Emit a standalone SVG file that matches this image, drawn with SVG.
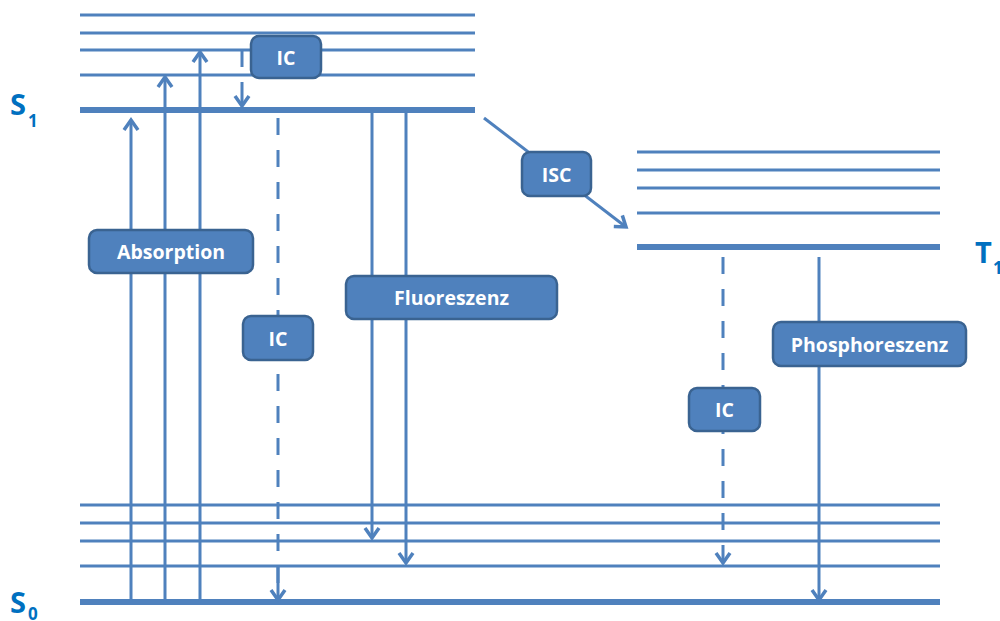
<svg xmlns="http://www.w3.org/2000/svg" width="1000" height="621" viewBox="0 0 1000 621">
<style>
.lv{stroke:#4F81BD;stroke-width:3;fill:none}
.gl{stroke:#4F81BD;stroke-width:6;fill:none}
.ar{stroke:#4F81BD;stroke-width:3;fill:none}
.box{fill:#4F81BD;stroke:#3A6391;stroke-width:2.5}
.bt{font-family:"Open Sans","Liberation Sans",sans-serif;font-weight:bold;font-size:19.5px;fill:#FFFFFF;text-anchor:middle;dominant-baseline:central}
.st{font-family:"Open Sans","Liberation Sans",sans-serif;font-weight:bold;fill:#0070C0}
</style>
<defs>
<marker id="ah" markerUnits="userSpaceOnUse" markerWidth="24" markerHeight="24" refX="0" refY="0" viewBox="-12 -12 24 24" orient="auto" overflow="visible">
<path d="M-10,-7 L0,0 L-10,7" fill="none" stroke="#4F81BD" stroke-width="3.5" stroke-linejoin="miter"/>
</marker>
</defs>
<g id="levels">
<g id="S1-levels">
<line class="lv" x1="80" y1="15" x2="475" y2="15"/>
<line class="lv" x1="80" y1="33" x2="475" y2="33"/>
<line class="lv" x1="80" y1="50" x2="475" y2="50"/>
<line class="lv" x1="80" y1="75" x2="475" y2="75"/>
<line class="gl" x1="80" y1="110" x2="475" y2="110"/>
</g>
<g id="T1-levels">
<line class="lv" x1="637" y1="152" x2="940" y2="152"/>
<line class="lv" x1="637" y1="170" x2="940" y2="170"/>
<line class="lv" x1="637" y1="188" x2="940" y2="188"/>
<line class="lv" x1="637" y1="213" x2="940" y2="213"/>
<line class="gl" x1="637" y1="247" x2="940" y2="247"/>
</g>
<g id="S0-levels">
<line class="lv" x1="80" y1="505" x2="940" y2="505"/>
<line class="lv" x1="80" y1="523" x2="940" y2="523"/>
<line class="lv" x1="80" y1="541" x2="940" y2="541"/>
<line class="lv" x1="80" y1="566" x2="940" y2="566"/>
<line class="gl" x1="80" y1="602" x2="940" y2="602"/>
</g>
</g>
<g id="connectors">
<line class="ar" x1="131" y1="602" x2="131" y2="120" marker-end="url(#ah)"/>
<line class="ar" x1="165" y1="602" x2="165" y2="77" marker-end="url(#ah)"/>
<line class="ar" x1="200" y1="602" x2="200" y2="52" marker-end="url(#ah)"/>
<line class="ar" x1="242" y1="50" x2="242" y2="67"/>
<line class="ar" x1="242" y1="82" x2="242" y2="106" marker-end="url(#ah)"/>
<line class="ar" x1="278" y1="118" x2="278" y2="583" stroke-dasharray="17 15"/>
<line class="ar" x1="278" y1="566" x2="278" y2="600" marker-end="url(#ah)"/>
<line class="ar" x1="372" y1="110" x2="372" y2="538" marker-end="url(#ah)"/>
<line class="ar" x1="406" y1="110" x2="406" y2="563" marker-end="url(#ah)"/>
<line class="ar" x1="484" y1="118" x2="626" y2="227" marker-end="url(#ah)"/>
<line class="ar" x1="723" y1="257" x2="723" y2="530" stroke-dasharray="17 15"/>
<line class="ar" x1="723" y1="545" x2="723" y2="563" marker-end="url(#ah)"/>
<line class="ar" x1="819" y1="257" x2="819" y2="600" marker-end="url(#ah)"/>
</g>
<g id="label-S1"><text class="st" x="10" y="115" font-size="29">S</text><text class="st" x="28" y="127" font-size="17">1</text></g>
<g id="label-S0"><text class="st" x="10" y="613" font-size="29">S</text><text class="st" x="28" y="620" font-size="17">0</text></g>
<g id="label-T1"><text class="st" x="975" y="263" font-size="29">T</text><text class="st" x="993" y="274" font-size="17">1</text></g>
<g id="node-IC-top"><rect class="box" x="251" y="36" width="70" height="42" rx="8"/><text class="bt" x="286" y="57">IC</text></g>
<g id="node-Absorption"><rect class="box" x="89" y="230" width="164" height="43" rx="8"/><text class="bt" x="171" y="251.5">Absorption</text></g>
<g id="node-ISC"><rect class="box" x="522" y="152" width="69" height="44" rx="8"/><text class="bt" x="556.5" y="174">ISC</text></g>
<g id="node-Fluoreszenz"><rect class="box" x="346" y="276" width="211" height="43" rx="8"/><text class="bt" x="451.5" y="297.5">Fluoreszenz</text></g>
<g id="node-IC-mid"><rect class="box" x="243" y="316" width="70" height="44" rx="8"/><text class="bt" x="278" y="338">IC</text></g>
<g id="node-Phosphoreszenz"><rect class="box" x="773" y="322" width="193" height="44" rx="8"/><text class="bt" x="869.5" y="344">Phosphoreszenz</text></g>
<g id="node-IC-right"><rect class="box" x="689" y="388" width="71" height="43" rx="8"/><text class="bt" x="724.5" y="409.5">IC</text></g>
</svg>
